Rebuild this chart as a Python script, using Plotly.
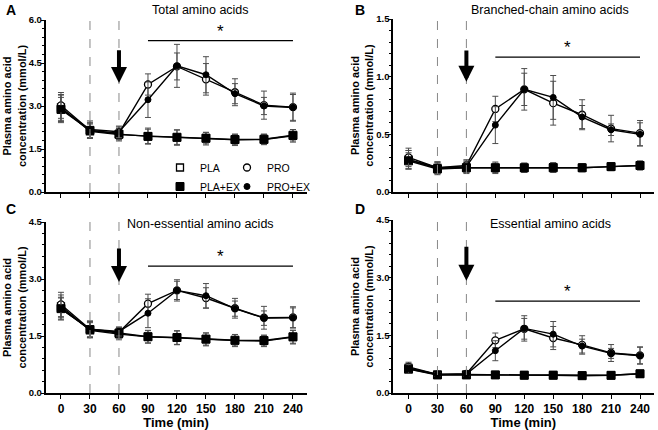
import plotly.graph_objects as go

# ---------------- data ----------------
times = [0, 30, 60, 90, 120, 150, 180, 210, 240]
time_tick_labels = ["0", "30", "60", "90", "120", "150", "180", "210", "240"]
group_names = ["PLA", "PRO", "PLA+EX", "PRO+EX"]
vlines = [30, 60]
arrow_time = 60
sig_start, sig_end = 90, 240

# Panel A: Total amino acids (mmol/L)
A_PLA = [2.95, 2.12, 2.00, 1.95, 1.90, 1.86, 1.82, 1.83, 1.96]
A_PLA_err = [0.45, 0.25, 0.22, 0.28, 0.27, 0.22, 0.20, 0.18, 0.22]
A_PRO = [3.02, 2.15, 2.05, 3.75, 4.38, 3.93, 3.48, 3.03, 2.96]
A_PRO_err = [0.45, 0.28, 0.22, 0.37, 0.47, 0.55, 0.47, 0.49, 0.49]
A_PLAEX = [2.88, 2.15, 2.02, 1.94, 1.91, 1.88, 1.83, 1.84, 1.98]
A_PLAEX_err = [0.42, 0.25, 0.20, 0.25, 0.25, 0.20, 0.18, 0.18, 0.20]
A_PROEX = [2.90, 2.18, 2.10, 3.22, 4.40, 4.09, 3.43, 3.00, 2.95]
A_PROEX_err = [0.48, 0.30, 0.20, 0.62, 0.75, 0.63, 0.35, 0.30, 0.45]

# Panel B: Branched-chain amino acids
B_PLA = [0.28, 0.21, 0.21, 0.21, 0.21, 0.215, 0.21, 0.22, 0.23]
B_PLA_err = [0.08, 0.05, 0.05, 0.05, 0.04, 0.04, 0.035, 0.035, 0.04]
B_PRO = [0.30, 0.21, 0.23, 0.72, 0.89, 0.77, 0.67, 0.55, 0.51]
B_PRO_err = [0.08, 0.05, 0.05, 0.11, 0.14, 0.19, 0.13, 0.115, 0.11]
B_PLAEX = [0.27, 0.20, 0.21, 0.21, 0.21, 0.21, 0.21, 0.22, 0.23]
B_PLAEX_err = [0.07, 0.05, 0.04, 0.04, 0.04, 0.04, 0.03, 0.03, 0.035]
B_PROEX = [0.28, 0.21, 0.22, 0.58, 0.89, 0.82, 0.65, 0.54, 0.50]
B_PROEX_err = [0.08, 0.05, 0.05, 0.16, 0.18, 0.19, 0.10, 0.05, 0.10]

# Panel C: Non-essential amino acids
C_PLA = [2.28, 1.65, 1.55, 1.48, 1.45, 1.41, 1.38, 1.37, 1.47]
C_PLA_err = [0.30, 0.20, 0.15, 0.17, 0.18, 0.17, 0.16, 0.15, 0.18]
C_PRO = [2.33, 1.68, 1.60, 2.35, 2.70, 2.50, 2.23, 1.98, 1.99]
C_PRO_err = [0.32, 0.20, 0.12, 0.25, 0.24, 0.27, 0.26, 0.30, 0.28]
C_PLAEX = [2.22, 1.67, 1.58, 1.48, 1.46, 1.42, 1.39, 1.38, 1.48]
C_PLAEX_err = [0.28, 0.20, 0.14, 0.16, 0.18, 0.16, 0.15, 0.14, 0.17]
C_PROEX = [2.22, 1.68, 1.62, 2.10, 2.70, 2.56, 2.22, 1.97, 1.98]
C_PROEX_err = [0.30, 0.22, 0.12, 0.38, 0.28, 0.32, 0.20, 0.19, 0.26]

# Panel D: Essential amino acids
D_PLA = [0.65, 0.48, 0.48, 0.47, 0.47, 0.47, 0.46, 0.46, 0.50]
D_PLA_err = [0.12, 0.04, 0.04, 0.04, 0.03, 0.03, 0.03, 0.03, 0.04]
D_PRO = [0.68, 0.48, 0.50, 1.37, 1.67, 1.43, 1.25, 1.04, 0.98]
D_PRO_err = [0.12, 0.05, 0.05, 0.19, 0.27, 0.30, 0.24, 0.22, 0.22]
D_PLAEX = [0.62, 0.47, 0.47, 0.47, 0.46, 0.46, 0.45, 0.46, 0.50]
D_PLAEX_err = [0.10, 0.04, 0.03, 0.03, 0.03, 0.03, 0.03, 0.03, 0.03]
D_PROEX = [0.63, 0.48, 0.49, 1.10, 1.68, 1.53, 1.22, 1.03, 0.97]
D_PROEX_err = [0.12, 0.05, 0.05, 0.26, 0.33, 0.33, 0.18, 0.13, 0.22]

panel_titles = ["Total amino acids", "Branched-chain amino acids",
                "Non-essential amino acids", "Essential amino acids"]
panel_letters = ["A", "B", "C", "D"]
y_max = [6.0, 1.5, 4.5, 4.5]
y_ticks = [[0, 1.5, 3.0, 4.5, 6.0], [0, 0.5, 1.0, 1.5],
           [0, 1.5, 3.0, 4.5], [0, 1.5, 3.0, 4.5]]
y_minor = [0.3, 0.1, 0.3, 0.3]
sig_level = [5.28, 1.17, 3.34, 2.39]
arrow_tail = [5.0, 1.24, 3.84, 3.84]
arrow_tip = [3.80, 0.955, 2.92, 2.92]

panels = [
    [(A_PLA, A_PLA_err), (A_PRO, A_PRO_err), (A_PLAEX, A_PLAEX_err), (A_PROEX, A_PROEX_err)],
    [(B_PLA, B_PLA_err), (B_PRO, B_PRO_err), (B_PLAEX, B_PLAEX_err), (B_PROEX, B_PROEX_err)],
    [(C_PLA, C_PLA_err), (C_PRO, C_PRO_err), (C_PLAEX, C_PLAEX_err), (C_PROEX, C_PROEX_err)],
    [(D_PLA, D_PLA_err), (D_PRO, D_PRO_err), (D_PLAEX, D_PLAEX_err), (D_PROEX, D_PROEX_err)],
]

# ---------------- styling ----------------
W, H = 658, 430
FONT = "Arial, Liberation Sans, sans-serif"
marker_styles = {
    "PLA": dict(symbol="square", size=7, color="white", line=dict(color="black", width=1.3)),
    "PRO": dict(symbol="circle", size=7, color="white", line=dict(color="black", width=1.3)),
    "PLA+EX": dict(symbol="square", size=8, color="black", line=dict(color="black", width=1)),
    "PRO+EX": dict(symbol="circle", size=6, color="black", line=dict(color="black", width=1)),
}
legend_of = {"PLA": "legend", "PLA+EX": "legend", "PRO": "legend2", "PRO+EX": "legend2"}

# pixel geometry of each plot area (left, right, top, bottom)
px_boxes = [(45.5, 306.5, 20, 192), (393.1, 653.5, 19, 192),
            (45.5, 306.5, 222, 393), (393.1, 653.5, 220, 393)]
x_range = [-16, 254]

fig = go.Figure()
for i, series in enumerate(panels):
    sfx = "" if i == 0 else str(i + 1)
    for name, (vals, errs) in zip(group_names, series):
        fig.add_trace(go.Scatter(
            x=times, y=vals, name=name, mode="lines+markers",
            xaxis="x" + sfx, yaxis="y" + sfx,
            line=dict(color="black", width=1.4),
            marker=marker_styles[name],
            error_y=dict(type="data", array=errs, color="#4d4d4d", thickness=1, width=3),
            showlegend=False,
        ))

# legend-only entries (markers only, no data)
for name in ["PLA", "PLA+EX", "PRO", "PRO+EX"]:
    fig.add_trace(go.Scatter(
        x=[None], y=[None], name=name, mode="markers", marker=marker_styles[name],
        showlegend=True, legend=legend_of[name], xaxis="x", yaxis="y",
    ))

annotations = []
shapes = []
for i in range(4):
    sfx = "" if i == 0 else str(i + 1)
    l, r, t, b = px_boxes[i]
    bottom_row = i >= 2
    fig.update_layout(**{
        "xaxis" + sfx: dict(
            domain=[l / W, r / W], range=x_range, anchor="y" + sfx, automargin=False,
            tickvals=times, ticktext=time_tick_labels,
            showticklabels=bottom_row, ticks="outside", ticklen=4, tickwidth=1.2,
            tickcolor="black", showline=True, linecolor="black", linewidth=1.5,
            showgrid=False, zeroline=False,
            tickfont=dict(family=FONT, size=12, color="black", weight="bold"),
            title=dict(text="Time (min)" if bottom_row else "", standoff=0,
                       font=dict(family=FONT, size=13, color="black", weight="bold")),
        ),
        "yaxis" + sfx: dict(
            domain=[1 - b / H, 1 - t / H], range=[0, y_max[i]], anchor="x" + sfx,
            automargin=False,
            tickvals=y_ticks[i], tickformat=".1f", ticks="outside", ticklen=3,
            tickwidth=1.2, tickcolor="black", ticklabelstandoff=-3,
            minor=dict(dtick=y_minor[i], ticks="outside", ticklen=2, tickcolor="black", tickwidth=1),
            showline=True, linecolor="black", linewidth=1.5, showgrid=False, zeroline=False,
            tickfont=dict(family=FONT, size=9.5, color="black", weight="bold"),
            title=dict(text="Plasma amino acid<br>concentration (mmol/L)", standoff=0,
                       font=dict(family=FONT, size=11, color="black", weight="bold")),
        ),
    })
    for v in vlines:
        shapes.append(dict(type="line", xref="x" + sfx, yref="y" + sfx + " domain",
                           x0=v, x1=v, y0=0, y1=1,
                           line=dict(color="#888888", width=1, dash="dash")))
    shapes.append(dict(type="line", xref="x" + sfx, yref="y" + sfx,
                       x0=sig_start, x1=sig_end, y0=sig_level[i], y1=sig_level[i],
                       line=dict(color="black", width=1.2)))
    annotations.append(dict(xref="x" + sfx, yref="y" + sfx, x=(sig_start + sig_end) / 2,
                            y=sig_level[i], text="*", showarrow=False, yanchor="bottom",
                            yshift=-2, font=dict(family=FONT, size=17, color="black")))
    annotations.append(dict(xref="x" + sfx, yref="y" + sfx, axref="x" + sfx, ayref="y" + sfx,
                            x=arrow_time, y=arrow_tip[i], ax=arrow_time, ay=arrow_tail[i],
                            text="", showarrow=True, arrowhead=2, arrowsize=0.8,
                            arrowwidth=4, arrowcolor="black", standoff=0))
    title_x = [200, 550, 200, 550][i]
    title_y = [10, 10, 224, 224][i]
    annotations.append(dict(xref="paper", yref="paper", x=title_x / W, y=1 - title_y / H,
                            text=panel_titles[i], showarrow=False, xanchor="center",
                            yanchor="middle",
                            font=dict(family=FONT, size=12.5, color="black")))
    letter_x = [11, 360, 11, 360][i]
    letter_y = [10, 10, 209, 209][i]
    annotations.append(dict(xref="paper", yref="paper", x=letter_x / W, y=1 - letter_y / H,
                            text=panel_letters[i], showarrow=False, xanchor="center",
                            yanchor="middle",
                            font=dict(family=FONT, size=14, color="black", weight="bold")))

legend_common = dict(font=dict(family=FONT, size=10.5, color="black"),
                     bgcolor="rgba(0,0,0,0)", borderwidth=0, tracegroupgap=0,
                     itemwidth=30, xanchor="left", yanchor="top", orientation="v")
fig.update_layout(
    width=W, height=H, margin=dict(l=0, r=0, t=0, b=0),
    paper_bgcolor="white", plot_bgcolor="white",
    font=dict(family=FONT, color="black"),
    shapes=shapes, annotations=annotations,
    legend=dict(x=160 / W, y=1 - 153 / H, **legend_common),
    legend2=dict(x=227 / W, y=1 - 153 / H, **legend_common),
)

fig.write_html("out.html", config={"displayModeBar": False},
               post_script="document.body.style.margin='0';")
